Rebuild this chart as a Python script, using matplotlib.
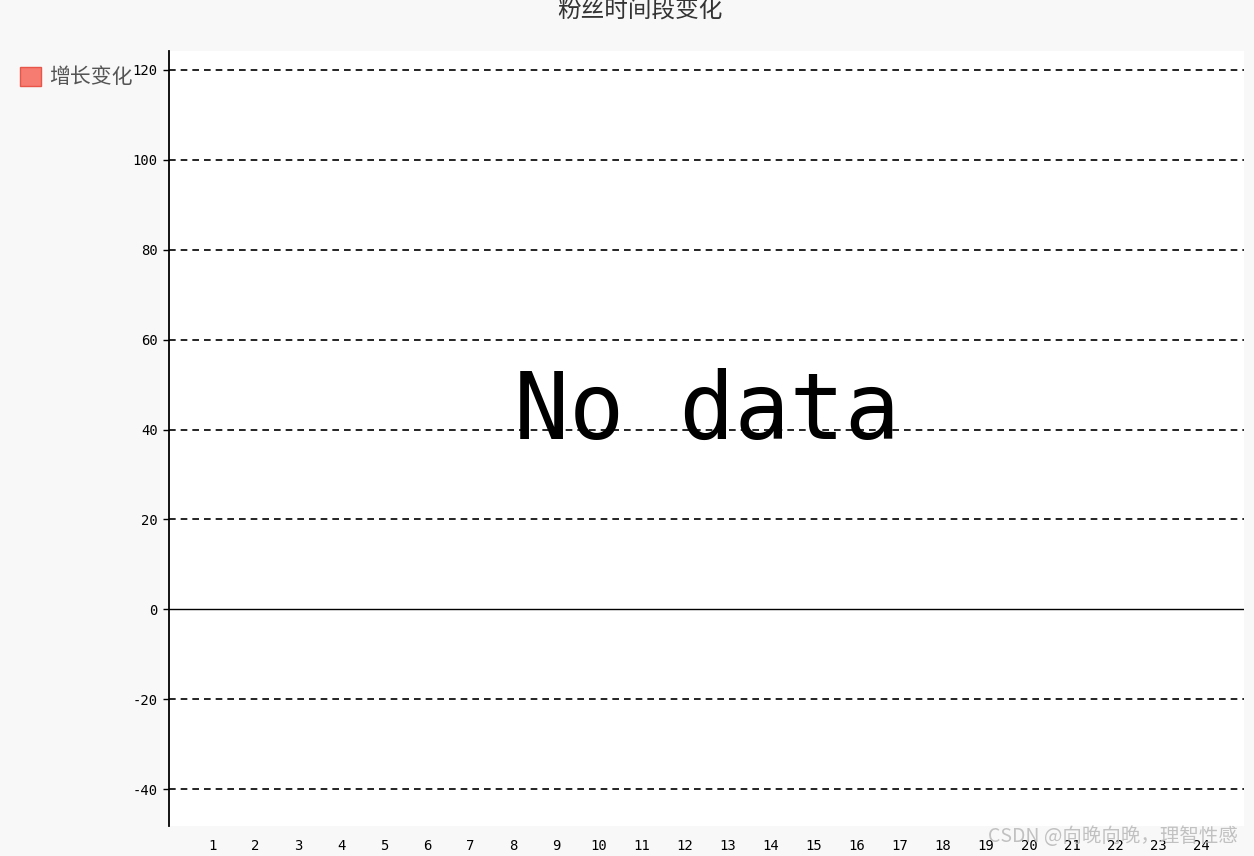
import matplotlib
matplotlib.use('Agg')
import matplotlib.pyplot as plt
from matplotlib.patches import Patch

plt.rcParams['font.family'] = ['Noto Sans CJK SC', 'DejaVu Sans']

# 数据：24 小时，没有数值
hours = [str(h) for h in range(1, 25)]
growth = []  # 空序列 -> "No data"
y_ticks = [-40, -20, 0, 20, 40, 60, 80, 100, 120]
title = '粉丝时间段变化'
series_name = '增长变化'

W, H = 1254, 856
fig = plt.figure(figsize=(W / 100, H / 100), dpi=100, facecolor='#f8f8f8')
ax = fig.add_axes([169 / W, 1 - 826 / H, (1244 - 169) / W, (826 - 51) / H])
ax.set_facecolor('white')

ax.set_xlim(0, len(hours) + 1)
ax.set_ylim(-48.2, 124.2)
for s in ['top', 'right', 'bottom']:
    ax.spines[s].set_visible(False)
ax.spines['left'].set_linewidth(1.3)

ax.set_yticks(y_ticks)
ax.set_yticklabels([str(v) for v in y_ticks], family='DejaVu Sans Mono', fontsize=10)
ax.tick_params(axis='y', length=4, width=1, color='black', pad=4)
ax.set_xticks(range(1, len(hours) + 1))
ax.set_xticklabels(hours, family='DejaVu Sans Mono', fontsize=10)
ax.tick_params(axis='x', length=0, pad=9)

for v in y_ticks:
    if v == 0:
        ax.axhline(v, color='black', lw=1, zorder=1)
    else:
        ax.axhline(v, color='black', lw=1.2, ls=(0, (4, 3)), zorder=1)

if not growth:
    ax.text(0.5, 0.533, 'No data', transform=ax.transAxes, ha='center', va='center',
            family='DejaVu Sans Mono', fontsize=66, color='black')

fig.text(640 / W, 1 - 10 / H, title, ha='center', va='center', fontsize=17, color='#333333')

handle = Patch(facecolor='#f67b70', edgecolor='#e8564a', lw=1)
fig.legend([handle], [series_name], loc='upper left', bbox_to_anchor=(12 / W, 1 - 58 / H),
           frameon=False, fontsize=15, labelcolor='#555555', handlelength=1.0,
           handleheight=1.0, handletextpad=0.4, borderaxespad=0)

fig.text(1238 / W, 1 - 836 / H, 'CSDN @向晚向晚，理智性感', ha='right', va='center',
         fontsize=14, color='#bbbbbb', alpha=0.9)

fig.savefig('out.png', dpi=100, facecolor=fig.get_facecolor())
